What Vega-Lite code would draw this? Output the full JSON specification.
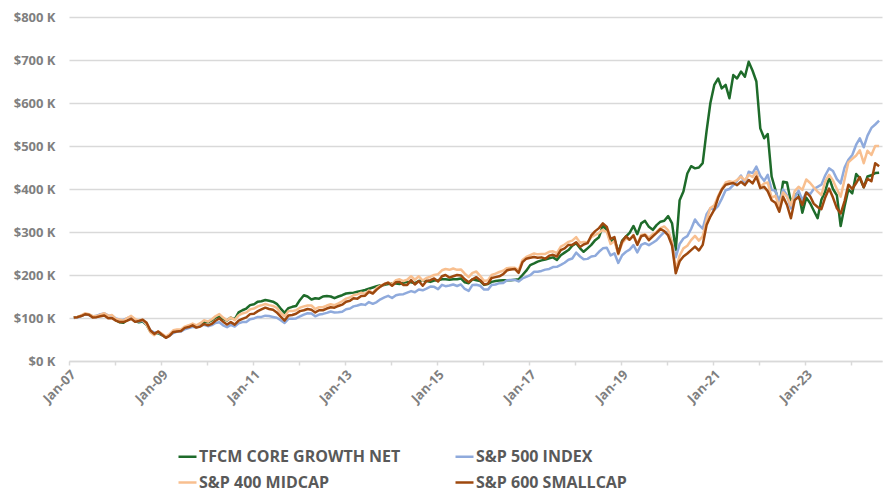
{
"$schema": "https://vega.github.io/schema/vega-lite/v6.json",
"width": 813, "height": 344,
"autosize": {"type": "none"},
"padding": {"left": 69, "top": 17, "right": 4, "bottom": 131},
"background": "white",
"config": {"view": {"stroke": null}, "font": "Open Sans"},
"datasets": {
"names": [{"k":"g","n":"TFCM CORE GROWTH NET"},{"k":"b","n":"S&P 500 INDEX"},{"k":"o","n":"S&P 400 MIDCAP"},{"k":"s","n":"S&P 600 SMALLCAP"}],
"perf": [
{"d":"2007-02-08","g":101,"b":100,"o":101,"s":101},
{"d":"2007-03-08","g":102,"b":101,"o":102,"s":102},
{"d":"2007-04-08","g":105,"b":105,"o":106,"s":104.5},
{"d":"2007-05-08","g":109,"b":108.5,"o":111,"s":108.5},
{"d":"2007-06-08","g":108,"b":107,"o":109,"s":107.5},
{"d":"2007-07-08","g":104,"b":103.5,"o":104,"s":101},
{"d":"2007-08-08","g":104,"b":105,"o":104.5,"s":102},
{"d":"2007-09-08","g":107,"b":109,"o":108,"s":104},
{"d":"2007-10-08","g":110,"b":110.5,"o":111,"s":106},
{"d":"2007-11-08","g":104,"b":106,"o":105,"s":99.5},
{"d":"2007-12-08","g":103,"b":105.5,"o":107,"s":99.7},
{"d":"2008-01-08","g":95,"b":99,"o":97.5,"s":94},
{"d":"2008-02-08","g":90,"b":96,"o":96,"s":90.5},
{"d":"2008-03-08","g":89,"b":95.5,"o":93.5,"s":90.5},
{"d":"2008-04-08","g":96,"b":100,"o":100,"s":94},
{"d":"2008-05-08","g":101,"b":101.5,"o":105,"s":98},
{"d":"2008-06-08","g":93,"b":93,"o":97.5,"s":91},
{"d":"2008-07-08","g":90,"b":92,"o":94,"s":93},
{"d":"2008-08-08","g":92,"b":93.5,"o":96,"s":96},
{"d":"2008-09-08","g":84,"b":85,"o":85,"s":89},
{"d":"2008-10-08","g":68,"b":71,"o":67,"s":71},
{"d":"2008-11-08","g":63,"b":66,"o":60,"s":63},
{"d":"2008-12-08","g":65,"b":66.5,"o":68.9,"s":68.7},
{"d":"2009-01-08","g":60,"b":61,"o":63.4,"s":61},
{"d":"2009-02-08","g":55,"b":54.5,"o":57,"s":54},
{"d":"2009-03-08","g":60,"b":59,"o":62,"s":58.4},
{"d":"2009-04-08","g":67,"b":65,"o":71.5,"s":67.5},
{"d":"2009-05-08","g":70,"b":68.5,"o":73.5,"s":68.8},
{"d":"2009-06-08","g":71,"b":68.5,"o":73.5,"s":70},
{"d":"2009-07-08","g":77,"b":74,"o":80,"s":77},
{"d":"2009-08-08","g":80,"b":76.5,"o":83,"s":79},
{"d":"2009-09-08","g":84,"b":79.5,"o":87,"s":83},
{"d":"2009-10-08","g":81,"b":78,"o":83,"s":77.7},
{"d":"2009-11-08","g":86,"b":82.5,"o":88,"s":80},
{"d":"2009-12-08","g":92,"b":84,"o":94.7,"s":86.3},
{"d":"2010-01-08","g":90,"b":81,"o":91.5,"s":83},
{"d":"2010-02-08","g":95,"b":83.5,"o":97,"s":86.5},
{"d":"2010-03-08","g":101,"b":88.5,"o":104,"s":93.5},
{"d":"2010-04-08","g":104,"b":90,"o":109,"s":99},
{"d":"2010-05-08","g":98,"b":83,"o":101,"s":91.5},
{"d":"2010-06-08","g":94,"b":78.5,"o":94.5,"s":85},
{"d":"2010-07-08","g":101,"b":84,"o":101,"s":90.5},
{"d":"2010-08-08","g":97,"b":80,"o":95,"s":84.5},
{"d":"2010-09-08","g":113,"b":87.5,"o":106,"s":94},
{"d":"2010-10-08","g":118,"b":90.5,"o":110.5,"s":98},
{"d":"2010-11-08","g":122,"b":90.5,"o":113,"s":101.5},
{"d":"2010-12-08","g":130,"b":97,"o":120,"s":109},
{"d":"2011-01-08","g":132,"b":99,"o":122,"s":110},
{"d":"2011-02-08","g":138,"b":102.5,"o":127,"s":116},
{"d":"2011-03-08","g":139,"b":102.5,"o":129.5,"s":120},
{"d":"2011-04-08","g":142,"b":105.5,"o":132.5,"s":124},
{"d":"2011-05-08","g":140,"b":104.5,"o":130,"s":121},
{"d":"2011-06-08","g":138,"b":102.5,"o":128,"s":119},
{"d":"2011-07-08","g":133,"b":100.5,"o":123.5,"s":113},
{"d":"2011-08-08","g":122,"b":95,"o":112,"s":103},
{"d":"2011-09-08","g":112,"b":88.5,"o":104,"s":94},
{"d":"2011-10-08","g":123,"b":98,"o":116,"s":106},
{"d":"2011-11-08","g":126,"b":98,"o":116,"s":107},
{"d":"2011-12-08","g":128,"b":99,"o":118,"s":110},
{"d":"2012-01-08","g":142,"b":103.5,"o":124,"s":116},
{"d":"2012-02-08","g":153,"b":108,"o":127,"s":118},
{"d":"2012-03-08","g":150,"b":111,"o":129,"s":121},
{"d":"2012-04-08","g":143,"b":110.5,"o":129,"s":119},
{"d":"2012-05-08","g":146,"b":104,"o":121,"s":113},
{"d":"2012-06-08","g":145,"b":108,"o":125,"s":118},
{"d":"2012-07-08","g":150,"b":109.5,"o":125,"s":118},
{"d":"2012-08-08","g":151,"b":112,"o":129,"s":122},
{"d":"2012-09-08","g":150,"b":115,"o":132,"s":125},
{"d":"2012-10-08","g":146,"b":113,"o":130,"s":124},
{"d":"2012-11-08","g":150,"b":113.5,"o":134,"s":128},
{"d":"2012-12-08","g":153,"b":114.5,"o":139,"s":131},
{"d":"2013-01-08","g":157,"b":120.5,"o":145,"s":138},
{"d":"2013-02-08","g":158,"b":122,"o":148,"s":140},
{"d":"2013-03-08","g":159,"b":127,"o":153,"s":146},
{"d":"2013-04-08","g":161,"b":129,"o":155,"s":145},
{"d":"2013-05-08","g":163,"b":132,"o":159,"s":151},
{"d":"2013-06-08","g":165,"b":130.5,"o":156,"s":152},
{"d":"2013-07-08","g":168,"b":137,"o":164,"s":161},
{"d":"2013-08-08","g":171,"b":133,"o":158,"s":157},
{"d":"2013-09-08","g":174,"b":137,"o":170,"s":166},
{"d":"2013-10-08","g":176,"b":143.5,"o":175,"s":173},
{"d":"2013-11-08","g":177,"b":148,"o":179,"s":179},
{"d":"2013-12-08","g":179,"b":151.5,"o":183,"s":182},
{"d":"2014-01-08","g":181,"b":146.5,"o":179,"s":175},
{"d":"2014-02-08","g":180,"b":153,"o":188,"s":183},
{"d":"2014-03-08","g":179,"b":154.5,"o":190,"s":184},
{"d":"2014-04-08","g":182,"b":155.5,"o":186,"s":177},
{"d":"2014-05-08","g":184,"b":159,"o":189,"s":177},
{"d":"2014-06-08","g":183,"b":162.5,"o":197,"s":188},
{"d":"2014-07-08","g":181,"b":160,"o":189,"s":178},
{"d":"2014-08-08","g":186,"b":166.5,"o":197,"s":186},
{"d":"2014-09-08","g":188,"b":164.5,"o":187,"s":175},
{"d":"2014-10-08","g":186,"b":168.5,"o":193,"s":186},
{"d":"2014-11-08","g":184,"b":173,"o":196,"s":188},
{"d":"2014-12-08","g":187,"b":172.5,"o":200,"s":192},
{"d":"2015-01-08","g":188,"b":167,"o":202,"s":185},
{"d":"2015-02-08","g":190,"b":177,"o":211,"s":197},
{"d":"2015-03-08","g":190,"b":174,"o":214,"s":200},
{"d":"2015-04-08","g":189,"b":175.5,"o":212,"s":194},
{"d":"2015-05-08","g":190,"b":178,"o":215,"s":197},
{"d":"2015-06-08","g":190,"b":174.5,"o":212,"s":200},
{"d":"2015-07-08","g":192,"b":178,"o":213,"s":199},
{"d":"2015-08-08","g":183,"b":167.5,"o":203,"s":190},
{"d":"2015-09-08","g":181,"b":163,"o":195,"s":183},
{"d":"2015-10-08","g":190,"b":177,"o":205,"s":190},
{"d":"2015-11-08","g":188,"b":177.5,"o":208,"s":195},
{"d":"2015-12-08","g":186,"b":175,"o":198,"s":188},
{"d":"2016-01-08","g":177,"b":166,"o":186,"s":178},
{"d":"2016-02-08","g":179,"b":166,"o":188,"s":180},
{"d":"2016-03-08","g":184,"b":177,"o":200,"s":193},
{"d":"2016-04-08","g":186,"b":178,"o":203,"s":195},
{"d":"2016-05-08","g":187,"b":181,"o":207,"s":197},
{"d":"2016-06-08","g":188,"b":181.5,"o":210,"s":202},
{"d":"2016-07-08","g":188,"b":188,"o":216,"s":211},
{"d":"2016-08-08","g":188,"b":188.5,"o":217,"s":213},
{"d":"2016-09-08","g":189,"b":188.5,"o":217,"s":214},
{"d":"2016-10-08","g":190,"b":185,"o":211,"s":205},
{"d":"2016-11-08","g":200,"b":192,"o":235,"s":230},
{"d":"2016-12-08","g":210,"b":195.5,"o":242,"s":238},
{"d":"2017-01-08","g":223,"b":199.5,"o":246,"s":240},
{"d":"2017-02-08","g":227,"b":207.5,"o":250,"s":242},
{"d":"2017-03-08","g":231,"b":207.5,"o":248,"s":240},
{"d":"2017-04-08","g":234,"b":209.5,"o":249,"s":241},
{"d":"2017-05-08","g":236,"b":212.5,"o":249,"s":238},
{"d":"2017-06-08","g":239,"b":214,"o":254,"s":245},
{"d":"2017-07-08","g":241,"b":218.5,"o":255,"s":247},
{"d":"2017-08-08","g":235,"b":219,"o":251,"s":243},
{"d":"2017-09-08","g":246,"b":223.5,"o":266,"s":258},
{"d":"2017-10-08","g":252,"b":228.5,"o":271,"s":262},
{"d":"2017-11-08","g":258,"b":235.5,"o":277,"s":270},
{"d":"2017-12-08","g":268,"b":238.5,"o":280,"s":270},
{"d":"2018-01-08","g":274,"b":252,"o":288,"s":276},
{"d":"2018-02-08","g":262,"b":243,"o":275,"s":265},
{"d":"2018-03-08","g":254,"b":236.5,"o":277,"s":271},
{"d":"2018-04-08","g":262,"b":237.5,"o":276,"s":274},
{"d":"2018-05-08","g":270,"b":243,"o":288,"s":292},
{"d":"2018-06-08","g":281,"b":244.5,"o":293,"s":302},
{"d":"2018-07-08","g":288,"b":254,"o":298,"s":309},
{"d":"2018-08-08","g":315,"b":262,"o":305,"s":320},
{"d":"2018-09-08","g":305,"b":263.5,"o":300,"s":312},
{"d":"2018-10-08","g":277,"b":245.5,"o":272,"s":284},
{"d":"2018-11-08","g":283,"b":250.5,"o":279,"s":288},
{"d":"2018-12-08","g":252,"b":228,"o":248,"s":250},
{"d":"2019-01-08","g":280,"b":246,"o":274,"s":278},
{"d":"2019-02-08","g":290,"b":254,"o":285,"s":290},
{"d":"2019-03-08","g":298,"b":259,"o":282,"s":282},
{"d":"2019-04-08","g":314,"b":269.5,"o":293,"s":292},
{"d":"2019-05-08","g":295,"b":252.5,"o":272,"s":270},
{"d":"2019-06-08","g":320,"b":270,"o":293,"s":290},
{"d":"2019-07-08","g":326,"b":274,"o":295,"s":293},
{"d":"2019-08-08","g":312,"b":269.5,"o":287,"s":281},
{"d":"2019-09-08","g":305,"b":275,"o":295,"s":290},
{"d":"2019-10-08","g":316,"b":281,"o":300,"s":298},
{"d":"2019-11-08","g":324,"b":291,"o":309,"s":307},
{"d":"2019-12-08","g":326,"b":299.5,"o":313,"s":302},
{"d":"2020-01-08","g":337,"b":299.5,"o":304,"s":292},
{"d":"2020-02-08","g":320,"b":275,"o":276,"s":268},
{"d":"2020-03-08","g":258,"b":241,"o":212,"s":204},
{"d":"2020-04-08","g":374,"b":272,"o":245,"s":232},
{"d":"2020-05-08","g":394,"b":285,"o":262,"s":243},
{"d":"2020-06-08","g":436,"b":290.5,"o":268,"s":250},
{"d":"2020-07-08","g":453,"b":307,"o":281,"s":258},
{"d":"2020-08-08","g":448,"b":329,"o":291,"s":266},
{"d":"2020-09-08","g":450,"b":316.5,"o":280,"s":257},
{"d":"2020-10-08","g":460,"b":308,"o":290,"s":270},
{"d":"2020-11-08","g":535,"b":341.5,"o":328,"s":316},
{"d":"2020-12-08","g":600,"b":355,"o":356,"s":336},
{"d":"2021-01-08","g":642,"b":351.5,"o":362,"s":352},
{"d":"2021-02-08","g":657,"b":361,"o":384,"s":380},
{"d":"2021-03-08","g":634,"b":377,"o":400,"s":398},
{"d":"2021-04-08","g":642,"b":397,"o":415,"s":410},
{"d":"2021-05-08","g":611,"b":400,"o":418,"s":412},
{"d":"2021-06-08","g":665,"b":409,"o":416,"s":414},
{"d":"2021-07-08","g":657,"b":419,"o":421,"s":409},
{"d":"2021-08-08","g":673,"b":431.5,"o":429,"s":417},
{"d":"2021-09-08","g":661,"b":411.5,"o":420,"s":409},
{"d":"2021-10-08","g":696,"b":440,"o":433,"s":421},
{"d":"2021-11-08","g":675,"b":437,"o":428,"s":413},
{"d":"2021-12-08","g":650,"b":452,"o":440,"s":429},
{"d":"2022-01-08","g":541,"b":431,"o":405,"s":402},
{"d":"2022-02-08","g":518,"b":419,"o":413,"s":405},
{"d":"2022-03-08","g":528,"b":433,"o":415,"s":395},
{"d":"2022-04-08","g":429,"b":398,"o":380,"s":374},
{"d":"2022-05-08","g":398,"b":396,"o":384,"s":368},
{"d":"2022-06-08","g":359,"b":370,"o":359,"s":347},
{"d":"2022-07-08","g":417,"b":399,"o":392,"s":382},
{"d":"2022-08-08","g":415,"b":385,"o":382,"s":363},
{"d":"2022-09-08","g":370,"b":355,"o":362,"s":332},
{"d":"2022-10-08","g":385,"b":380,"o":395,"s":374},
{"d":"2022-11-08","g":392,"b":396,"o":405,"s":382},
{"d":"2022-12-08","g":345,"b":374,"o":398,"s":363},
{"d":"2023-01-08","g":380,"b":392,"o":422,"s":392},
{"d":"2023-02-08","g":367,"b":388,"o":414,"s":383},
{"d":"2023-03-08","g":350,"b":400,"o":404,"s":366},
{"d":"2023-04-08","g":332,"b":405,"o":394,"s":358},
{"d":"2023-05-08","g":375,"b":410,"o":386,"s":353},
{"d":"2023-06-08","g":395,"b":432,"o":418,"s":381},
{"d":"2023-07-08","g":427,"b":448,"o":433,"s":401},
{"d":"2023-08-08","g":400,"b":442,"o":420,"s":380},
{"d":"2023-09-08","g":385,"b":423,"o":400,"s":355},
{"d":"2023-10-08","g":314,"b":413,"o":382,"s":343},
{"d":"2023-11-08","g":360,"b":450,"o":422,"s":372},
{"d":"2023-12-08","g":399,"b":468,"o":462,"s":410},
{"d":"2024-01-08","g":390,"b":479,"o":470,"s":400},
{"d":"2024-02-08","g":435,"b":503,"o":478,"s":414},
{"d":"2024-03-08","g":425,"b":518,"o":490,"s":428},
{"d":"2024-04-08","g":404,"b":497,"o":460,"s":404},
{"d":"2024-05-08","g":429,"b":524,"o":489,"s":424},
{"d":"2024-06-08","g":432,"b":542,"o":479,"s":418},
{"d":"2024-07-08","g":437,"b":550,"o":500,"s":460},
{"d":"2024-08-08","g":438,"b":559,"o":500,"s":453}
]},
"data": {"name": "perf"},
"transform": [
{"fold": ["g","b","o","s"], "as": ["k","v"]},
{"lookup": "k", "from": {"data": {"name": "names"}, "key": "k", "fields": ["n"]}}
],
"mark": {"type": "line", "strokeWidth": 2.5, "strokeJoin": "round"},
"encoding": {
"x": {"field": "d", "type": "temporal",
 "scale": {"type": "utc", "domain": [{"year":2007,"month":1,"date":1,"utc":true},{"year":2024,"month":8,"date":31,"utc":true}]},
 "axis": {"title": null, "grid": false,
  "values": [{"year":2007,"month":1,"date":1,"utc":true},{"year":2008,"month":1,"date":1,"utc":true},{"year":2009,"month":1,"date":1,"utc":true},{"year":2010,"month":1,"date":1,"utc":true},{"year":2011,"month":1,"date":1,"utc":true},{"year":2012,"month":1,"date":1,"utc":true},{"year":2013,"month":1,"date":1,"utc":true},{"year":2014,"month":1,"date":1,"utc":true},{"year":2015,"month":1,"date":1,"utc":true},{"year":2016,"month":1,"date":1,"utc":true},{"year":2017,"month":1,"date":1,"utc":true},{"year":2018,"month":1,"date":1,"utc":true},{"year":2019,"month":1,"date":1,"utc":true},{"year":2020,"month":1,"date":1,"utc":true},{"year":2021,"month":1,"date":1,"utc":true},{"year":2022,"month":1,"date":1,"utc":true},{"year":2023,"month":1,"date":1,"utc":true},{"year":2024,"month":1,"date":1,"utc":true}],
  "labelExpr": "utcyear(datum.value) % 2 == 0 ? '' : utcFormat(datum.value, '%b-%y')",
  "labelAngle": -45, "labelFont": "Open Sans", "labelFontWeight": "bold", "labelFontSize": 13, "labelColor": "#7f7f7f",
  "domainColor": "#d9d9d9", "domainWidth": 1.5, "tickColor": "#d9d9d9", "tickWidth": 1.5, "tickSize": 4, "labelPadding": 3, "labelOverlap": false}},
"y": {"field": "v", "type": "quantitative",
 "scale": {"domain": [0, 800], "nice": false},
 "axis": {"title": null, "values": [0,100,200,300,400,500,600,700,800],
  "labelExpr": "'$' + datum.value + ' K'", "grid": true, "gridColor": "#d9d9d9", "gridWidth": 1.5,
  "domain": false, "ticks": false, "labelPadding": 14, "labelFont": "Open Sans", "labelFontWeight": "bold", "labelFontSize": 13, "labelColor": "#7f7f7f"}},
"color": {"field": "n", "type": "nominal",
 "scale": {"domain": ["TFCM CORE GROWTH NET","S&P 500 INDEX","S&P 400 MIDCAP","S&P 600 SMALLCAP"], "range": ["#1e6b2a","#8faadc","#f8bf8f","#9e480e"]},
 "legend": {"title": null, "orient": "none", "legendX": 108, "legendY": 429, "direction": "horizontal", "columns": 2,
  "symbolType": "stroke", "symbolSize": 324, "symbolStrokeWidth": 2.5, "labelOffset": 1, "labelLimit": 400,
  "labelFont": "Open Sans", "labelFontSize": 16, "labelFontWeight": "bold", "labelColor": "#595959",
  "columnPadding": 49, "rowPadding": 7, "padding": 0}}
}
}
